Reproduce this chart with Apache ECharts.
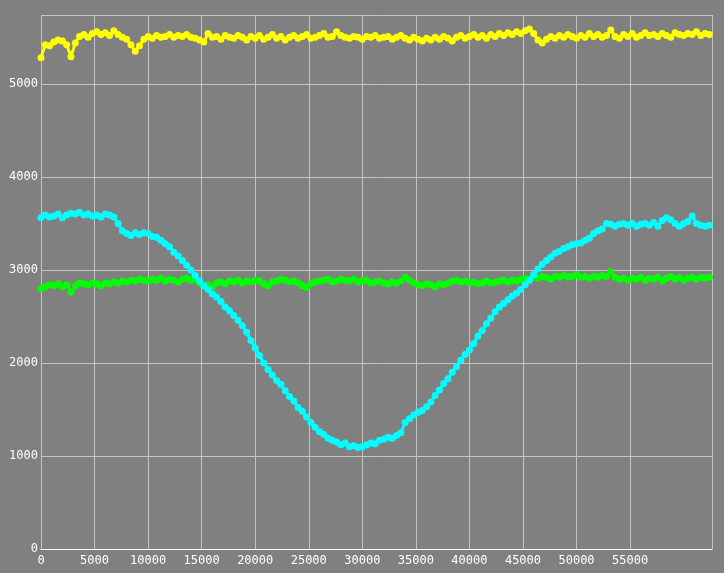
<!DOCTYPE html>
<html>
<head>
<meta charset="utf-8">
<script src="https://cdn.jsdelivr.net/npm/echarts@6/dist/echarts.min.js"></script>
<style>html,body{margin:0;padding:0;background:#808080;}#c{width:724px;height:573px;}</style>
</head>
<body>
<div id="c"></div>
<script>
// sample spacing along the x axis
var xStep = 400;
var xTicks = [0, 5000, 10000, 15000, 20000, 25000, 30000, 35000, 40000, 45000, 50000, 55000];
var yTicks = [0, 1000, 2000, 3000, 4000, 5000];

var yellow = [5280,5420,5410,5450,5470,5460,5420,5290,5440,5510,5530,5500,5540,5560,5530,5550,5520,5570,5530,5500,
5480,5420,5350,5410,5480,5510,5490,5520,5500,5510,5530,5500,5520,5510,5530,5500,5490,5470,5450,5540,
5500,5510,5480,5520,5500,5490,5520,5500,5470,5510,5490,5520,5480,5500,5530,5490,5510,5470,5500,5520,
5490,5510,5530,5490,5500,5520,5540,5500,5510,5560,5520,5500,5490,5510,5500,5480,5510,5500,5520,5490,
5500,5510,5480,5500,5520,5490,5470,5500,5480,5460,5490,5470,5500,5480,5510,5490,5460,5500,5520,5490,
5510,5530,5500,5520,5490,5530,5510,5540,5520,5550,5530,5560,5540,5570,5590,5540,5470,5440,5480,5510,
5490,5520,5500,5530,5510,5490,5520,5500,5540,5510,5530,5500,5520,5580,5510,5490,5530,5510,5540,5500,
5520,5550,5520,5530,5510,5540,5520,5500,5550,5530,5520,5540,5530,5560,5520,5540,5530];

var cyan = [3560,3590,3570,3580,3600,3560,3590,3610,3600,3620,3590,3600,3580,3590,3570,3600,3590,3570,3500,3420,
3390,3370,3400,3380,3400,3390,3360,3350,3320,3280,3250,3190,3150,3100,3050,3000,2940,2880,2830,2790,
2740,2710,2660,2600,2560,2510,2460,2400,2330,2240,2160,2080,2000,1930,1870,1810,1770,1700,1640,1590,
1520,1480,1420,1360,1310,1260,1230,1190,1170,1150,1120,1140,1100,1110,1090,1100,1120,1140,1130,1170,
1180,1200,1190,1220,1250,1360,1400,1440,1470,1490,1530,1580,1650,1710,1780,1830,1900,1960,2030,2090,
2140,2210,2290,2350,2420,2480,2550,2600,2640,2680,2720,2750,2790,2840,2890,2950,3010,3060,3100,3140,
3180,3200,3230,3250,3270,3280,3290,3320,3340,3390,3420,3440,3500,3490,3470,3490,3500,3480,3500,3470,
3490,3500,3480,3510,3470,3530,3560,3540,3500,3470,3500,3520,3580,3500,3480,3470,3480];

var green = [2800,2820,2840,2830,2850,2820,2840,2760,2830,2860,2850,2840,2860,2850,2830,2860,2850,2870,2860,2880,
2870,2890,2880,2900,2890,2880,2900,2890,2910,2880,2900,2890,2870,2900,2910,2890,2900,2860,2830,2840,
2820,2860,2870,2850,2880,2870,2890,2860,2880,2870,2890,2880,2850,2830,2870,2880,2900,2890,2870,2880,
2860,2830,2810,2850,2870,2880,2890,2900,2870,2880,2900,2890,2880,2900,2870,2880,2890,2860,2870,2880,
2860,2850,2870,2860,2880,2920,2890,2860,2840,2830,2850,2840,2820,2850,2840,2860,2880,2890,2870,2880,
2860,2870,2850,2860,2880,2860,2870,2880,2890,2870,2890,2880,2900,2910,2900,2920,2910,2930,2920,2900,
2930,2920,2940,2920,2930,2950,2920,2930,2910,2930,2920,2940,2930,2980,2920,2900,2910,2890,2910,2900,
2920,2890,2910,2900,2920,2880,2910,2930,2900,2920,2890,2910,2920,2900,2920,2910,2920];

function pairs(arr) {
  return arr.map(function (v, i) { return [i * xStep, v]; });
}

var gridCol = '#c4c4c4';
var chart = echarts.init(document.getElementById('c'), null, {renderer: 'canvas'});

// x split line colours: one per tick (0..60000 plus the max); hide 60000
var xLineColors = xTicks.map(function () { return gridCol; });
xLineColors.push('rgba(0,0,0,0)');
xLineColors.push(gridCol);

function mkSeries(name, arr, color, z) {
  return {
    name: name, type: 'line', data: pairs(arr), z: z,
    symbol: 'circle', symbolSize: 7, showSymbol: true,
    itemStyle: {color: color, borderWidth: 0},
    lineStyle: {color: color, width: 3},
    emphasis: {disabled: true}, silent: true, animation: false
  };
}

chart.setOption({
  backgroundColor: '#808080',
  animation: false,
  grid: {left: 41, right: 12, top: 15, bottom: 24, containLabel: false},
  xAxis: {
    type: 'value', min: 0, max: 62650, interval: 5000,
    axisLine: {show: true, onZero: false, lineStyle: {color: '#ffffff', width: 1}},
    axisTick: {show: false},
    splitLine: {show: true, lineStyle: {color: xLineColors, width: 1}},
    axisLabel: {
      color: '#ffffff', fontFamily: 'DejaVu Sans Mono', fontSize: 12, margin: 6,
      showMaxLabel: false,
      formatter: function (v) { return xTicks.indexOf(v) >= 0 ? String(v) : ''; }
    }
  },
  yAxis: {
    type: 'value', min: 0, max: 5740, interval: 1000,
    axisLine: {show: false},
    axisTick: {show: false},
    splitLine: {show: true, lineStyle: {color: gridCol, width: 1}},
    axisLabel: {
      color: '#ffffff', fontFamily: 'DejaVu Sans Mono', fontSize: 12, margin: 3,
      showMaxLabel: false,
      formatter: function (v) { return yTicks.indexOf(v) >= 0 ? String(v) : ''; }
    }
  },
  series: [
    mkSeries('green', green, '#00ff00', 2),
    mkSeries('cyan', cyan, '#00ffff', 3),
    mkSeries('yellow', yellow, '#ffff00', 4)
  ]
});
</script>
</body>
</html>
